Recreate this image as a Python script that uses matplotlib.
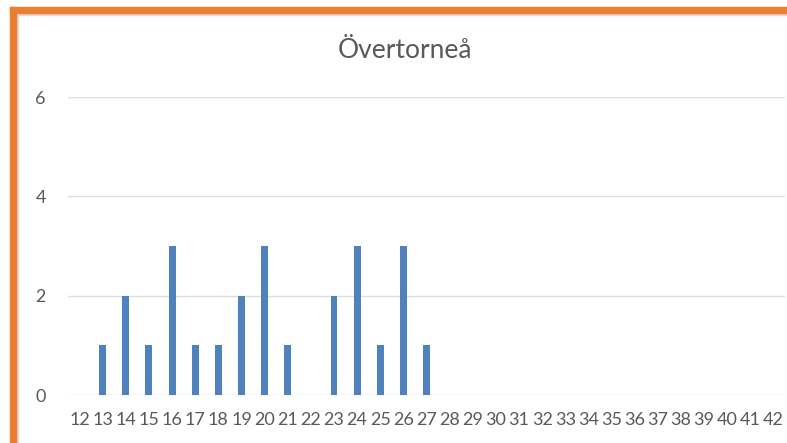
import matplotlib
matplotlib.use("Agg")
import matplotlib.pyplot as plt
from matplotlib.patches import Rectangle

categories = [str(v) for v in range(12, 43)]
values = [0, 1, 2, 1, 3, 1, 1, 2, 3, 1, 0, 2, 3, 1, 3, 1] + [0] * 15
yticks = [0, 2, 4, 6]
title = "Övertorneå"

W, H = 787, 443
fig = plt.figure(figsize=(W / 100, H / 100), dpi=100)
fig.patch.set_facecolor("white")

# orange frame (top and left) with faint gray shadow
orange = "#ED7D31"
fig.patches.append(Rectangle((10 / W, 1 - 15 / H), 1, 2 / H, transform=fig.transFigure,
                             color="#D9D9D9", zorder=0))
fig.patches.append(Rectangle((16 / W, 0), 1.5 / W, 1 - 13 / H, transform=fig.transFigure,
                             color="#D9D9D9", zorder=0))
fig.patches.append(Rectangle((10 / W, 1 - 13 / H), 1, 6 / H, transform=fig.transFigure,
                             color=orange, zorder=1))
fig.patches.append(Rectangle((10 / W, 0), 6 / W, 1 - 7 / H, transform=fig.transFigure,
                             color=orange, zorder=1))

left, right = 68 / W, 785 / W
bottom, top = (H - 395) / H, (H - 97) / H
ax = fig.add_axes([left, bottom, right - left, top - bottom])

x = list(range(len(categories)))
ax.bar(x, values, width=0.3, color="#4F81BD", zorder=3)
ax.set_xlim(-0.5, len(categories) - 0.5)
ax.set_ylim(0, 6)
ax.set_yticks(yticks)
ax.set_xticks(x)
ax.set_xticklabels(categories)

for s in ax.spines.values():
    s.set_visible(False)
ax.grid(axis="y", color="#DEDEDE", linewidth=1, zorder=0)
ax.tick_params(axis="both", length=0, colors="#595959", labelsize=13)
ax.tick_params(axis="x", pad=12)
ax.tick_params(axis="y", pad=16)
for lab in ax.get_xticklabels() + ax.get_yticklabels():
    lab.set_family(["Lato", "DejaVu Sans"])
    lab.set_color("#595959")

fig.text((335 + 475) / 2 / W, 1 - 50 / H, title, ha="center", va="center",
         fontsize=19, color="#595959", family=["Lato", "DejaVu Sans"])

fig.savefig("out.png", dpi=100)
